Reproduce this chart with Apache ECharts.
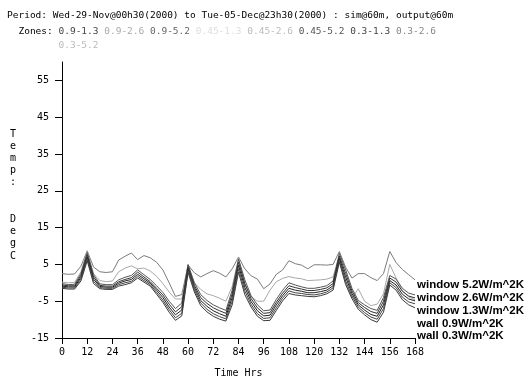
<!DOCTYPE html>
<html><head><meta charset="utf-8">
<script src="https://cdn.jsdelivr.net/npm/echarts@6/dist/echarts.min.js"></script>
<style>html,body{margin:0;padding:0;background:#fff}#c{width:528px;height:383px}</style>
</head><body><div id="c"></div>
<script>
const hours = [0,3,6,9,12,15,18,21,24,27,30,33,36,39,42,45,48,51,54,57,60,63,66,69,72,75,78,81,84,87,90,93,96,99,102,105,108,111,114,117,120,123,126,129,132,135,138,141,144,147,150,153,156,159,162,165,168];
const xTicks = [0,12,24,36,48,60,72,84,96,108,120,132,144,156,168];
const yTicks = [-15,-5,5,15,25,35,45,55];

const win52 = [2.5,2.3,2.4,4.5,8.7, 4.3,3.0,2.8,3.0,6.2, 7.2,8.1,6.3,7.4,6.8, 5.6,3.5,0.0,-3.7,-3.2, 4.8,2.7,1.6,2.5,3.3, 2.6,1.6,3.8,7.0,3.8, 1.9,1.0,-1.6,-0.3,2.3, 3.5,6.0,5.2,4.8,3.8, 4.9,4.9,4.8,5.0,8.5, 4.2,1.3,2.5,2.5,1.4, 0.6,2.5,8.5,5.5,3.6, 2.2,0.8];
const win26 = [0.2,0.0,0.1,3.0,8.5, 2.5,0.6,0.3,0.5,3.0, 4.0,4.6,3.8,4.0,3.2, 1.8,-0.2,-2.5,-4.4,-4.4, 4.0,0.0,-1.8,-3.0,-3.5, -4.2,-5.0,-1.0,6.5,-0.4, -3.8,-5.0,-5.0,-2.0,0.3, 1.2,1.7,1.3,1.1,0.6, 0.7,0.8,1.0,1.6,7.3, 0.0,-4.2,-1.6,-5.0,-6.2, -5.8,-3.0,5.0,1.3,-2.2, -3.8,-4.6];
const win13 = [-0.2,-0.5,-0.4,2.5,8.2, 2.2,-0.3,-0.5,-0.5,0.8, 1.5,2.0,3.5,2.2,0.9, -0.8,-2.6,-5.0,-7.0,-5.5, 5.0,0.0,-3.2,-4.8,-6.0, -6.8,-7.5,-2.0,6.5,0.8, -3.5,-6.0,-7.6,-7.4,-4.5, -2.0,0.0,-0.6,-1.1,-1.5, -1.5,-1.2,-0.8,0.5,8.0, 3.5,-1.5,-4.8,-6.0,-7.0, -7.5,-4.0,2.0,1.0,-1.5, -2.8,-3.3];
const wallA = [-0.6,-0.8,-0.8,2.0,7.6, 1.6,-0.7,-0.9,-0.9,0.3, 0.9,1.4,2.9,1.6,0.3, -1.5,-3.3,-5.8,-7.9,-6.5, 4.4,-0.7,-4.0,-5.6,-6.8, -7.6,-8.3,-3.0,5.6,-0.2, -4.3,-6.8,-8.3,-8.1,-5.3, -2.8,-0.8,-1.3,-1.7,-2.1, -2.1,-1.8,-1.4,-0.2,7.3, 2.5,-2.2,-5.4,-6.7,-7.8, -8.3,-5.0,1.3,0.2,-2.3, -3.6,-4.1];
const wallB = [-0.9,-1.1,-1.1,1.5,7.0, 1.0,-1.0,-1.2,-1.2,-0.1, 0.5,0.9,2.3,1.1,-0.1, -2.0,-4.0,-6.6,-8.7,-7.4, 3.8,-1.3,-4.8,-6.4,-7.6, -8.4,-9.1,-4.0,4.7,-1.2, -5.1,-7.6,-9.0,-8.8,-6.0, -3.5,-1.5,-2.0,-2.3,-2.7, -2.7,-2.4,-2.0,-0.8,6.7, 1.5,-2.9,-6.0,-7.4,-8.6, -9.1,-6.0,0.6,-0.6,-3.1, -4.4,-4.9];
const wallC = [-1.2,-1.4,-1.4,1.0,6.5, 0.4,-1.3,-1.5,-1.5,-0.5, 0.0,0.4,1.8,0.6,-0.5, -2.6,-4.7,-7.3,-9.5,-8.3, 3.3,-1.9,-5.5,-7.2,-8.4, -9.2,-9.8,-5.0,3.8,-2.2, -5.9,-8.4,-9.7,-9.5,-6.8, -4.2,-2.2,-2.7,-2.9,-3.2, -3.3,-3.0,-2.5,-1.4,6.1, 0.5,-3.6,-6.6,-8.1,-9.3, -9.9,-7.0,0.0,-1.3,-3.9, -5.2,-5.7];
const wallD = [-1.5,-1.7,-1.7,0.5,6.0, -0.2,-1.6,-1.8,-1.8,-0.9, -0.5,0.0,1.3,0.2,-0.9, -3.1,-5.3,-8.0,-10.2,-9.0, 2.8,-2.5,-6.2,-7.9,-9.1, -9.9,-10.4,-6.0,2.9,-3.2, -6.6,-9.1,-10.3,-10.2,-7.5, -4.9,-2.9,-3.3,-3.5,-3.7, -3.8,-3.5,-3.0,-2.0,5.6, -0.5,-4.3,-7.2,-8.7,-10.0, -10.7,-8.0,-0.6,-2.0,-4.6, -6.0,-6.8];

const seriesNames = ['0.9-5.2','0.9-2.6','0.9-1.3','0.45-1.3','0.3-1.3','0.45-5.2','0.3-2.6'];
const seriesData = [win52, win26, win13, wallA, wallB, wallC, wallD];
const seriesColors = ['#7c7c7c','#a9a9a9','#555555','#333333','#222222','#444444','#3a3a3a'];

const legendLabels = ['window 5.2W/m^2K','window 2.6W/m^2K','window 1.3W/m^2K','wall 0.9W/m^2K','wall 0.3W/m^2K'];
const titleLine = 'Period: Wed-29-Nov@00h30(2000) to Tue-05-Dec@23h30(2000) : sim@60m, output@60m';
const zoneLabels = ['0.9-1.3','0.9-2.6','0.9-5.2','0.45-1.3','0.45-2.6','0.45-5.2','0.3-1.3','0.3-2.6','0.3-5.2'];
const zoneColors = ['#444444','#aaaaaa','#666666','#dddddd','#bbbbbb','#555555','#444444','#888888','#bbbbbb'];

const mono = 'DejaVu Sans Mono';
const rich = {};
zoneLabels.forEach((z,i)=>{ rich['z'+i] = {fill: zoneColors[i], font: '9.5px "' + mono + '"'}; });
rich.k = {fill:'#000', font: '9.5px "' + mono + '"'};
const line2 = '{k|  Zones: }' + zoneLabels.slice(0,8).map((z,i)=>'{z'+i+'|'+z+'}').join('{k| }');
const line3 = '{k|         }{z8|' + zoneLabels[8] + '}';

const chart = echarts.init(document.getElementById('c'), null, {renderer:'canvas'});
chart.setOption({
  animation: false,
  backgroundColor: '#fff',
  grid: {left: 62, top: 62, width: 353, height: 282, containLabel: false},
  xAxis: {
    type: 'value', min: 0, max: 168, interval: 12,
    name: 'Time Hrs', nameLocation: 'middle', nameGap: 30,
    nameTextStyle: {fontFamily: mono, fontSize: 10, color: '#000'},
    axisLine: {onZero: false, lineStyle: {color: '#000', width: 1}},
    axisTick: {show: true, inside: false, length: 6, lineStyle: {color: '#000'}},
    axisLabel: {fontFamily: mono, fontSize: 10, color: '#000', margin: 9, customValues: xTicks},
    splitLine: {show: false}
  },
  yAxis: {
    type: 'value', min: -15, max: 60, interval: 10,
    axisLine: {show: true, onZero: false, lineStyle: {color: '#000', width: 1}},
    axisTick: {show: true, inside: false, length: 7, lineStyle: {color: '#000'}, customValues: yTicks},
    axisLabel: {fontFamily: mono, fontSize: 10, color: '#000', margin: 13, customValues: yTicks},
    splitLine: {show: false}
  },
  series: seriesData.map((d,i)=>({
    type: 'line', name: seriesNames[i],
    data: hours.map((h,j)=>[h, d[j]]),
    showSymbol: false, symbol: 'none',
    lineStyle: {color: seriesColors[i], width: 1},
    z: 2 + (i < 2 ? 0 : 1)
  })),
  graphic: [
    {type:'text', left: 7, top: 11, style:{text: titleLine, font: '9.5px "' + mono + '"', fill:'#000'}},
    {type:'text', left: 7, top: 27, style:{text: line2, rich: rich, font: '9.5px "' + mono + '"'}},
    {type:'text', left: 7, top: 41, style:{text: line3, rich: rich, font: '9.5px "' + mono + '"'}},
    {type:'text', x: 13, y: 128, style:{text: 'T\ne\nm\np\n:\n\n\nD\ne\ng\nC', font: '10px "' + mono + '"', fill:'#000', align:'center', lineHeight: 12.2}},
  ].concat(legendLabels.map((t,i)=>({
    type:'text', x: 417, y: [285,298,311,324,336][i], style:{text: t, font: 'bold 11.5px "Liberation Sans", Arial, sans-serif', fill:'#000', verticalAlign:'middle'}
  })))
});
</script></body></html>
